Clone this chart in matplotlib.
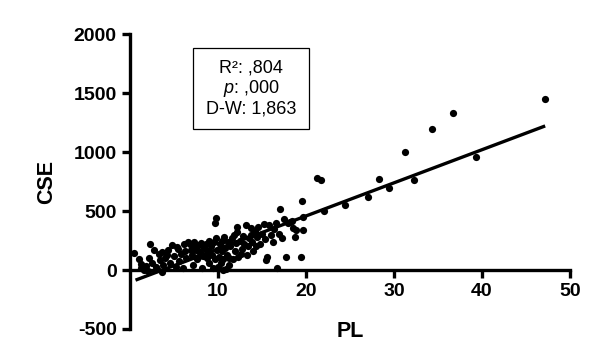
import matplotlib
matplotlib.use("Agg")
import matplotlib.pyplot as plt
import matplotlib.patches as patches
import numpy as np

plt.rcParams["font.family"] = ["Liberation Sans", "DejaVu Sans"]
plt.rcParams["axes.unicode_minus"] = False
plt.rcParams["mathtext.fontset"] = "custom"
plt.rcParams["mathtext.rm"] = "Liberation Sans"
plt.rcParams["mathtext.it"] = "Liberation Sans:italic"

# PL vs CSE scatter
pl = [0.5, 1.0, 1.2, 1.3, 1.6, 1.8, 2.0, 2.3, 2.5, 2.7, 2.9, 3.1,
      3.3, 3.4, 3.6, 3.8, 4.0, 4.3, 4.5, 4.8, 5.0, 5.3, 5.6, 5.8,
      6.1, 6.3, 6.4, 6.6, 6.8, 7.0, 7.1, 7.3, 7.5, 7.6, 7.8, 8.0, 8.1, 8.3, 8.4, 8.6, 8.8, 8.9, 9.0,
      9.2, 9.3, 9.5, 9.6, 9.7, 9.8, 9.8, 9.9, 10.0, 10.1, 10.2, 10.3, 10.4, 10.5, 10.6, 10.8, 10.9,
      11.0, 11.1, 11.3, 11.4, 11.6, 11.7, 11.9, 12.0,
      12.1, 12.2, 12.3, 12.5, 12.7, 12.8, 13.0, 13.2, 13.3, 13.4, 13.5, 13.7, 13.9, 14.0, 14.2,
      14.4, 14.6, 14.8, 15.0,
      15.3, 15.4, 15.6, 15.8, 16.0, 16.2, 16.4, 16.7, 16.9, 17.1, 17.3, 17.7, 17.9, 18.2, 18.5,
      18.7, 18.9, 19.4, 19.6, 19.7, 19.7,
      5.2, 6.0, 7.2, 8.2, 9.4, 10.6, 11.2, 3.6,
      13.8, 15.2, 16.6, 17.5, 18.4, 12.6, 14.3, 11.8, 10.7, 9.0, 8.5, 7.7, 6.9, 5.5, 4.2, 2.2,
      21.3, 21.7, 22.0, 24.4, 27.1, 28.3, 29.4, 31.2, 32.3, 34.3, 36.7, 39.3, 47.2]
cse = [145, 90, 20, 55, 0, 35, -10, 225, 60, 170, 30, 10,
       140, 85, 150, 40, 100, 170, 60, 210, 120, 195, 80, 140,
       220, 160, 100, 240, 225, 130, 200, 235, 170, 90, 210, 150, 230, 120, 190, 220, 100, 160, 60,
       200, 130, 240, 90, 395, 440, 270, 170, 30, 110, 220, 60, 160, 250, 95, 190, 10,
       130, 240, 100, 200, 270, 90, 160, 230,
       365, 320, 110, 250, 180, 290, 220, 380, 130, 200, 270, 300, 240, 160, 330,
       280, 365, 220, 310,
       260, 85, 110, 380, 300, 240, 350, 15, 310, 515, 270, 110, 400, 410, 360,
       280, 340, 115, 590, 340, 450,
       30, 20, 40, 15, 20, 0, 40, -20,
       360, 390, 400, 430, 420, 140, 200, 300, 280, 250, 130, 110, 170, 180, 130, 100,
       780, 765, 500, 555, 620, 770, 700, 1000, 765, 1195, 1335, 955, 1450]

# fitted line
fit_slope = 28.1
fit_intercept = -103
fit_range = [0.8, 47.0]

stats_text = "R²: ,804\n$p$: ,000\nD-W: 1,863"

fig = plt.figure(figsize=(5.94, 3.53), dpi=100)
ax = fig.add_axes([0.2189, 0.068, 0.7407, 0.8348])

ax.scatter(pl, cse, s=27, color="black", zorder=3, linewidths=0)
fx = np.array(fit_range)
ax.plot(fx, fit_intercept + fit_slope * fx, color="black", lw=2.4, zorder=2)

ax.set_xlim(0, 50)
ax.set_ylim(-500, 2000)
ax.set_xticks([10, 20, 30, 40, 50])
ax.set_yticks([-500, 0, 500, 1000, 1500, 2000])

ax.spines["top"].set_visible(False)
ax.spines["right"].set_visible(False)
ax.spines["bottom"].set_position(("data", 0))
for s in ["left", "bottom"]:
    ax.spines[s].set_linewidth(2.4)
ax.tick_params(width=2.4, length=6, labelsize=14)
for lab in ax.get_xticklabels() + ax.get_yticklabels():
    lab.set_fontweight("bold")

ax.set_xlabel("PL", fontsize=15.5, fontweight="bold", labelpad=15)
ax.set_ylabel("CSE", fontsize=15.5, fontweight="bold", labelpad=12)

box = patches.Rectangle((0.143, 0.679), 0.264, 0.274, transform=ax.transAxes,
                        fill=False, edgecolor="black", lw=0.9)
ax.add_patch(box)
ax.text(0.275, 0.816, stats_text, transform=ax.transAxes, ha="center", va="center",
        fontsize=13, linespacing=1.1, multialignment="center")

fig.savefig("out.png", dpi=100)
